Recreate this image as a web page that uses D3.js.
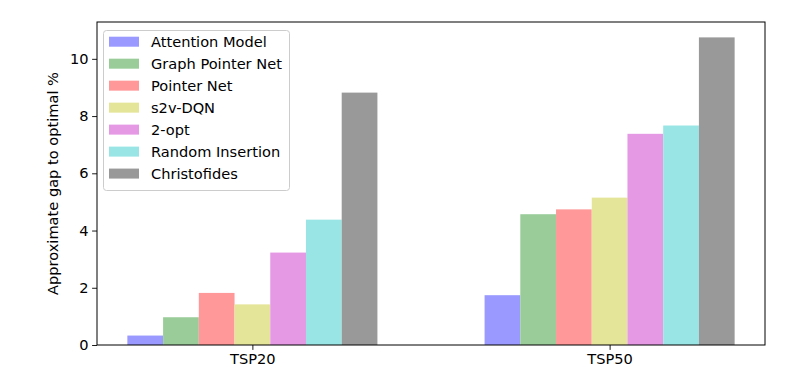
<!DOCTYPE html>
<html>
<head>
<meta charset="utf-8">
<script src="https://cdn.jsdelivr.net/npm/d3@7"></script>
<style>
  body { margin: 0; background: #fff; }
  svg { display: block; font-family: "DejaVu Sans", sans-serif; }
</style>
</head>
<body>
<svg width="796" height="382"></svg>
<script>
// data
const groups = ["TSP20", "TSP50"];
const methods = ["Attention Model", "Graph Pointer Net", "Pointer Net", "s2v-DQN",
                 "2-opt", "Random Insertion", "Christofides"];
const tsp20 = [0.33, 0.97, 1.82, 1.42, 3.23, 4.38, 8.82];
const tsp50 = [1.74, 4.57, 4.74, 5.15, 7.38, 7.67, 10.75];
const colors = ["#9999ff", "#99cc99", "#ff9999", "#e5e599", "#e599e5", "#99e5e5", "#999999"];
const yTicks = [0, 2, 4, 6, 8, 10];

const values = [tsp20, tsp50];

//--Layout
const chart = { left: 97, right: 765, top: 22, bottom: 345 };
const fontSize = 14.6;
const barW = 0.1;

const svg = d3.select("svg");

//x in data units (matplotlib style: group centers at 0,1 with margins)
const xMin = -0.35 - 0.085, xMax = 1.35 + 0.085;
const x = d3.scaleLinear().domain([xMin, xMax]).range([chart.left, chart.right]);
const yMax = 10.75 * 1.05;
const y = d3.scaleLinear().domain([0, yMax]).range([chart.bottom, chart.top]);

//--Bars
const bars = [];
groups.forEach((g, gi) => {
  methods.forEach((m, mi) => {
    bars.push({ g: gi, m: mi, v: values[gi][mi] });
  });
});

svg.append("g")
  .selectAll("rect")
  .data(bars)
  .enter()
  .append("rect")
  .attr("x", d => x(d.g + (d.m - 3) * barW - barW / 2))
  .attr("width", d => x(barW) - x(0))
  .attr("y", d => y(d.v))
  .attr("height", d => y(0) - y(d.v))
  .attr("fill", d => colors[d.m]);

//--Axes
const xAxis = d3.axisBottom(x)
  .tickValues([0, 1])
  .tickFormat(d => groups[d])
  .tickSize(4.9)
  .tickPadding(3.5);
const gx = svg.append("g")
  .attr("transform", "translate(0," + chart.bottom + ")")
  .call(xAxis);

const yAxis = d3.axisLeft(y)
  .tickValues(yTicks)
  .tickSize(4.9)
  .tickPadding(3.5);
const gy = svg.append("g")
  .attr("transform", "translate(" + chart.left + ",0)")
  .call(yAxis);

[gx, gy].forEach(g => {
  g.select(".domain").remove();
  g.selectAll(".tick line").attr("stroke", "#000").attr("stroke-width", 0.9);
  g.selectAll(".tick text")
    .attr("fill", "#000")
    .style("font-size", fontSize + "px")
    .style("font-family", "DejaVu Sans");
});

//frame
svg.append("rect")
  .attr("x", chart.left)
  .attr("y", chart.top)
  .attr("width", chart.right - chart.left)
  .attr("height", chart.bottom - chart.top)
  .attr("fill", "none")
  .attr("stroke", "#000")
  .attr("stroke-width", 1);

//y label
svg.append("text")
  .attr("transform", "translate(58," + ((chart.top + chart.bottom) / 2) + ") rotate(-90)")
  .attr("text-anchor", "middle")
  .style("font-size", fontSize + "px")
  .attr("fill", "#000")
  .text("Approximate gap to optimal %");

//--Legend
const legend = svg.append("g").attr("transform", "translate(103,30)");
legend.append("rect")
  .attr("x", 0.5)
  .attr("y", 0.5)
  .attr("width", 186)
  .attr("height", 160)
  .attr("rx", 3)
  .attr("fill", "#fff")
  .attr("fill-opacity", 0.8)
  .attr("stroke", "#cccccc")
  .attr("stroke-width", 1);

const items = legend.selectAll("g.item")
  .data(methods)
  .enter()
  .append("g")
  .classed("item", true)
  .attr("transform", (d, i) => "translate(0," + (11.7 + i * 21.98) + ")");
items.append("rect")
  .attr("x", 6)
  .attr("y", -5)
  .attr("width", 30)
  .attr("height", 10)
  .attr("fill", (d, i) => colors[i]);
items.append("text")
  .attr("x", 48)
  .attr("y", 5.2)
  .style("font-size", fontSize + "px")
  .attr("fill", "#000")
  .text(d => d);
</script>
</body>
</html>
